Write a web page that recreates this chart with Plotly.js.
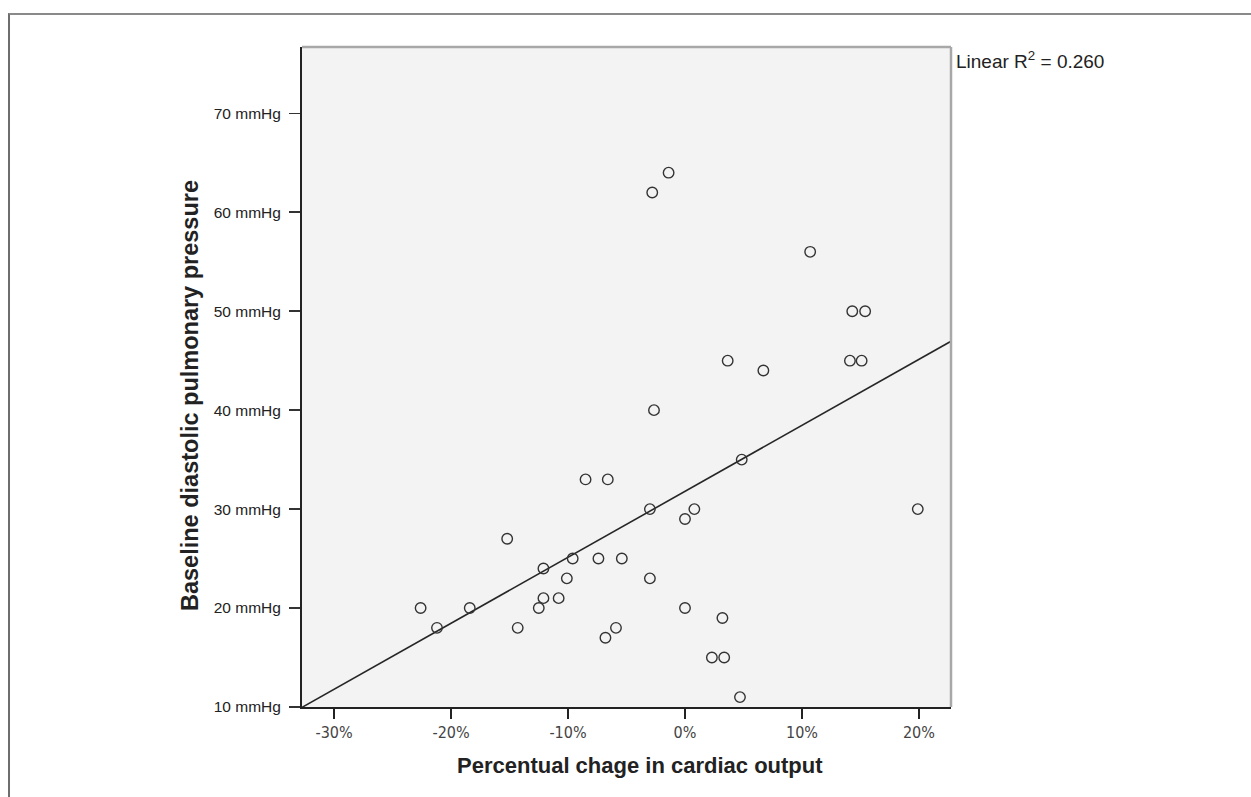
<!DOCTYPE html>
<html>
<head>
<meta charset="utf-8">
<script src="https://cdn.plot.ly/plotly-3.0.1.min.js"></script>
<style>
  html, body { margin: 0; padding: 0; background: #ffffff; overflow: hidden; }
  #wrap { position: relative; width: 1251px; height: 797px; }
  #chart { position: absolute; left: 0; top: 0; width: 1251px; height: 797px; }
  #frame { position: absolute; left: 8px; top: 13px; width: 1260px; height: 800px;
           border-left: 2px solid #6e6e6e; border-top: 2px solid #8a8a8a; pointer-events: none; }
</style>
</head>
<body>
<div id="wrap">
  <div id="chart"></div>
  <div id="frame"></div>
</div>
<script>
// Percentual change in cardiac output (%)
const cardiacOutputChange = [
  -22.6, -21.2, -18.4, -15.2, -14.3, -12.5, -12.1, -12.1, -10.8, -10.1,
  -9.6, -8.5, -7.4, -6.8, -6.6, -5.9, -5.4, -3.0, -3.0, -2.8,
  -2.65, -1.4, 0.0, 0.0, 0.8, 2.3, 3.2, 3.35, 3.65, 4.7,
  4.85, 6.7, 10.7, 14.1, 14.3, 15.1, 15.4, 19.9
];
// Baseline diastolic pulmonary pressure (mmHg)
const diastolicPressure = [
  20, 18, 20, 27, 18, 20, 21, 24, 21, 23,
  25, 33, 25, 17, 33, 18, 25, 30, 23, 62,
  40, 64, 20, 29, 30, 15, 19, 15, 45, 11,
  35, 44, 56, 45, 50, 45, 50, 30
];
const xTickValues = [-30, -20, -10, 0, 10, 20];
const xTickLabels = ["-30%", "-20%", "-10%", "0%", "10%", "20%"];
const yTickValues = [10, 20, 30, 40, 50, 60, 70];
const yTickLabels = ["10 mmHg", "20 mmHg", "30 mmHg", "40 mmHg", "50 mmHg", "60 mmHg", "70 mmHg"];
const xRange = [-32.74, 22.74];
const yRange = [10, 76.7];
const r2Label = "0.260";
const xTitle = "Percentual chage in cardiac output";
const yTitle = "Baseline diastolic pulmonary pressure";

// Least squares fit
const n = cardiacOutputChange.length;
const mx = cardiacOutputChange.reduce((a, b) => a + b, 0) / n;
const my = diastolicPressure.reduce((a, b) => a + b, 0) / n;
let sxy = 0, sxx = 0;
for (let i = 0; i < n; i++) {
  sxy += (cardiacOutputChange[i] - mx) * (diastolicPressure[i] - my);
  sxx += (cardiacOutputChange[i] - mx) ** 2;
}
const slope = sxy / sxx;
const intercept = my - slope * mx;
const fitX = xRange.slice();
const fitY = fitX.map(v => intercept + slope * v);

const traces = [
  {
    x: fitX, y: fitY, type: 'scatter', mode: 'lines',
    line: { color: '#262626', width: 1.6 }, hoverinfo: 'skip', cliponaxis: true
  },
  {
    x: cardiacOutputChange, y: diastolicPressure, type: 'scatter', mode: 'markers',
    marker: { symbol: 'circle-open', size: 10.5, color: '#333', line: { width: 1.4, color: '#333' } }
  }
];

const layout = {
  width: 1251, height: 797,
  margin: { l: 302, r: 300, t: 47, b: 90 },
  paper_bgcolor: 'rgba(0,0,0,0)',
  plot_bgcolor: '#f3f3f3',
  showlegend: false,
  font: { family: 'Liberation Sans, Arial, sans-serif', color: '#333' },
  xaxis: {
    range: xRange, tickvals: xTickValues, ticktext: xTickLabels,
    showgrid: false, zeroline: false,
    showline: true, linecolor: '#222', linewidth: 2,
    ticks: 'outside', ticklen: 10, tickwidth: 1.6, tickcolor: '#222',
    ticklabelstandoff: 0,
    tickfont: { family: 'DejaVu Sans Condensed, DejaVu Sans, sans-serif', size: 16, color: '#444' }
  },
  yaxis: {
    range: yRange, tickvals: yTickValues, ticktext: yTickLabels,
    showgrid: false, zeroline: false,
    showline: true, linecolor: '#222', linewidth: 2,
    ticks: 'outside', ticklen: 11, tickwidth: 1.6, tickcolor: '#333',
    ticklabelstandoff: 5,
    tickfont: { family: 'Liberation Sans, Arial, sans-serif', size: 15.5, color: '#222' }
  },
  shapes: [
    { type: 'line', xref: 'paper', yref: 'paper', x0: 0, x1: 1, y0: 1, y1: 1,
      line: { color: '#a8a8a8', width: 2.5 } },
    { type: 'line', xref: 'paper', yref: 'paper', x0: 1, x1: 1, y0: 0, y1: 1,
      line: { color: '#a8a8a8', width: 2.5 } }
  ],
  annotations: [
    { xref: 'paper', yref: 'paper', x: 1, y: 0.98, xanchor: 'left', yanchor: 'middle',
      xshift: 3, showarrow: false, text: 'Linear R<sup>2</sup> = ' + r2Label,
      font: { family: 'Liberation Sans, Arial, sans-serif', size: 19, color: '#222' } },
    { xref: 'paper', yref: 'paper', x: 0.521, y: -0.088, xanchor: 'center', yanchor: 'middle',
      showarrow: false, text: xTitle,
      font: { family: 'Liberation Sans, Arial, sans-serif', size: 22, color: '#222', weight: 'bold' } },
    { xref: 'paper', yref: 'paper', x: -0.1726, y: 0.4727, xanchor: 'center', yanchor: 'middle',
      textangle: -90, showarrow: false, text: yTitle,
      font: { family: 'Liberation Sans, Arial, sans-serif', size: 23.5, color: '#222', weight: 'bold' } }
  ]
};

Plotly.newPlot('chart', traces, layout, { displayModeBar: false, staticPlot: true });
</script>
</body>
</html>
